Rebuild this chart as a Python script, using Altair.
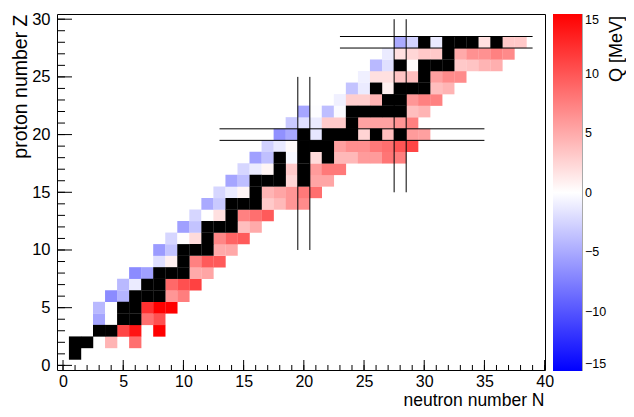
import altair as alt
import pandas as pd

FONT = "Liberation Sans"

# ---- Q values [MeV] of the coloured isotopes: neutron number N, proton number Z ----
q_N = [
    4, 6,                                   # Z=2
    5, 6, 8,                                # Z=3
    3, 4, 7, 8,                             # Z=4
    3, 4, 7, 8, 9,                          # Z=5
    4, 5, 9, 10,                            # Z=6
    5, 6, 9, 10, 11,                        # Z=7
    6, 7, 11, 12,                           # Z=8
    8, 9, 11, 12, 13,                       # Z=9
    8, 9, 13, 14,                           # Z=10
    9, 10, 11, 13, 14, 15,                  # Z=11
    10, 11, 15, 16,                         # Z=12
    11, 12, 13, 15, 16, 17,                 # Z=13
    12, 13, 17, 18, 19, 20,                 # Z=14
    13, 14, 15, 17, 18, 19, 20, 21,         # Z=15
    14, 15, 19, 21, 22,                     # Z=16
    15, 16, 17, 19, 21, 22, 23,             # Z=17
    16, 17, 19, 21, 23, 24, 25, 26, 27, 28, # Z=18
    17, 18, 19, 23, 24, 25, 26, 27, 28, 29, # Z=19
    18, 19, 21, 25, 27, 29, 30,             # Z=20
    19, 20, 21, 22, 23, 25, 26, 27, 28, 29, # Z=21
    20, 21, 22, 23, 29, 30,                 # Z=22
    23, 24, 25, 26, 29, 30, 31,             # Z=23
    24, 25, 27, 31, 32,                     # Z=24
    25, 26, 27, 28, 29, 31, 32, 33,         # Z=25
    26, 27, 29, 33, 34, 35, 36,             # Z=26
    27, 28, 29, 30, 31, 33, 34, 35, 36, 37, # Z=27
    28, 29, 31, 35, 37, 38,                 # Z=28
]
q_Z = [
    2, 2,
    3, 3, 3,
    4, 4, 4, 4,
    5, 5, 5, 5, 5,
    6, 6, 6, 6,
    7, 7, 7, 7, 7,
    8, 8, 8, 8,
    9, 9, 9, 9, 9,
    10, 10, 10, 10,
    11, 11, 11, 11, 11, 11,
    12, 12, 12, 12,
    13, 13, 13, 13, 13, 13,
    14, 14, 14, 14, 14, 14,
    15, 15, 15, 15, 15, 15, 15, 15,
    16, 16, 16, 16, 16,
    17, 17, 17, 17, 17, 17, 17,
    18, 18, 18, 18, 18, 18, 18, 18, 18, 18,
    19, 19, 19, 19, 19, 19, 19, 19, 19, 19,
    20, 20, 20, 20, 20, 20, 20,
    21, 21, 21, 21, 21, 21, 21, 21, 21, 21,
    22, 22, 22, 22, 22, 22,
    23, 23, 23, 23, 23, 23, 23,
    24, 24, 24, 24, 24,
    25, 25, 25, 25, 25, 25, 25, 25,
    26, 26, 26, 26, 26, 26, 26,
    27, 27, 27, 27, 27, 27, 27, 27, 27, 27,
    28, 28, 28, 28, 28, 28,
]
q_val = [
    4.4, 8.5,
    10.9, 13.8, 15.0,
    -5.3, 0.0, 8.5, 10.3,
    -4.1, 0.0, 12.1, 15.0, 15.0,
    -6.8, -4.4, 6.2, 7.6,
    -4.1, -1.2, 8.8, 10.3, 11.2,
    -6.8, -5.6, 5.0, 5.3,
    -1.9, 0.9, 7.4, 9.7, 9.7,
    -5.9, -3.5, 5.0, 5.1,
    -2.4, 0.1, 2.1, 7.1, 9.1, 9.7,
    -5.6, -3.5, 3.8, 5.0,
    -2.4, 0.0, 1.8, 7.4, 8.5, 9.7,
    -5.0, -3.2, 3.2, 4.1, 6.2, 6.8,
    -2.4, -1.2, 0.6, 4.4, 5.3, 6.2, 7.9, 8.5,
    -5.3, -3.8, 2.4, 5.3, 5.3,
    -2.4, -1.2, 0.6, 3.2, 5.9, 7.9, 7.9,
    -5.6, -3.7, -0.4, 2.1, 4.2, 4.2, 5.9, 5.9, 8.1, 7.6,
    -2.7, -1.3, 0.3, 5.6, 6.6, 6.6, 7.9, 8.5, 10.0, 10.9,
    -6.5, -5.1, -1.5, 2.5, 3.9, 5.9, 5.6,
    -3.2, -1.9, -1.2, 3.1, 3.1, 5.5, 5.5, 5.5, 6.3, 7.5,
    -5.3, -0.1, -3.8, -0.3, 3.8, 4.4,
    -0.9, 2.9, 2.9, 4.4, 6.2, 7.4, 7.4,
    -3.5, -1.2, 0.9, 3.8, 4.4,
    -0.9, 1.8, 1.8, 3.5, 3.8, 5.6, 6.8, 6.8,
    -4.1, -1.8, 0.3, 3.2, 3.5, 4.4, 4.7,
    -1.2, 1.8, 2.4, 3.2, 3.2, 5.0, 6.5, 6.5, 7.4, 6.9,
    -5.0, -2.6, -1.2, 1.8, 3.2, 3.2,
]

# ---- stable isotopes (drawn black) ----
stable_N = [1, 1, 2, 3, 4, 5, 6, 5, 6, 6, 7, 8, 7, 8, 8, 9, 10, 10, 10, 11, 12, 12,
            12, 13, 14, 14, 14, 15, 16, 16, 16, 17, 18, 20, 18, 20, 18, 20, 22,
            20, 21, 22, 20, 22, 23, 24, 26, 28, 24, 24, 25, 26, 27, 28, 27, 28,
            26, 28, 29, 30, 30, 28, 30, 31, 32, 32, 30, 32, 33, 34, 36]
stable_Z = [1, 2, 2, 3, 3, 4, 4, 5, 5, 6, 6, 6, 7, 7, 8, 8, 8, 9, 10, 10, 10, 11,
            12, 12, 12, 13, 14, 14, 14, 15, 16, 16, 16, 16, 17, 17, 18, 18, 18,
            19, 19, 19, 20, 20, 20, 20, 20, 20, 21, 22, 22, 22, 22, 22, 23, 23,
            24, 24, 24, 24, 25, 26, 26, 26, 26, 27, 28, 28, 28, 28, 28]

# ---- magic-number guide lines ----
vline_N = [19.5, 20.5, 27.5, 28.5]
vline_Z1 = [10, 10, 15, 15]
vline_Z2 = [25, 25, 30, 30]
hline_Z = [19.5, 20.5, 27.5, 28.5]
hline_N1 = [13, 13, 23, 23]
hline_N2 = [35, 35, 39, 39]

x_major = [0, 5, 10, 15, 20, 25, 30, 35, 40]
x_minor = list(range(0, 41))
y_major = [0, 5, 10, 15, 20, 25, 30]
y_minor = list(range(0, 31))
cbar_ticks = [-10, -5, 0, 5, 10]
cbar_labels = [-15, -10, -5, 0, 5, 10, 15]

W, H = 488, 356

cells = pd.DataFrame({"N": q_N, "Z": q_Z, "Q": q_val})
stable = pd.DataFrame({"N": stable_N, "Z": stable_Z})
vlines = pd.DataFrame({"N": vline_N, "Z1": vline_Z1, "Z2": vline_Z2})
hlines = pd.DataFrame({"Z": hline_Z, "N1": hline_N1, "N2": hline_N2})

xs = alt.Scale(domain=[-0.5, 40.03], nice=False, zero=False)
ys = alt.Scale(domain=[-0.4, 30.45], nice=False, zero=False)
cs = alt.Scale(domain=[-15, 0, 15], range=["#0000ff", "#ffffff", "#ff0000"], interpolate="rgb")

xaxis = alt.Axis(values=x_major, tickSize=0, domain=False, grid=False,
                 labelFont=FONT, labelFontSize=16, labelColor="black", labelPadding=3,
                 labelFlush=False, labelOverlap=False,
                 title="neutron number N", titleFont=FONT, titleFontSize=17.5,
                 titleFontWeight="normal", titleColor="black",
                 titleX=487, titleY=39, titleAlign="right", titleBaseline="bottom")
yaxis = alt.Axis(values=y_major, tickSize=0, domain=False, grid=False,
                 labelFont=FONT, labelFontSize=16.5, labelColor="black", labelPadding=7,
                 labelFlush=False, labelOverlap=False,
                 title="proton number Z", titleFont=FONT, titleFontSize=19.5,
                 titleFontWeight="normal", titleColor="black", titleAngle=270,
                 titleX=-37, titleY=0, titleAlign="right", titleBaseline="middle")

legend = alt.Legend(orient="none", legendX=496, legendY=0, direction="vertical",
                    type="gradient",
                    gradientLength=357, gradientThickness=29, values=cbar_labels,
                    labelFont=FONT, labelFontSize=12.5, labelColor="black",
                    labelOffset=3, labelBaseline="middle", labelOverlap=False,
                    gradientStrokeWidth=0, padding=0)

heat = alt.Chart(cells).transform_calculate(
    x0="datum.N - 0.51", x1="datum.N + 0.51", y0="datum.Z - 0.51", y1="datum.Z + 0.51"
).mark_rect().encode(
    x=alt.X("x0:Q", scale=xs, axis=xaxis),
    x2="x1:Q",
    y=alt.Y("y0:Q", scale=ys, axis=yaxis),
    y2="y1:Q",
    color=alt.Color("Q:Q", scale=cs, legend=legend, title=None),
)

black = alt.Chart(stable).transform_calculate(
    x0="datum.N - 0.51", x1="datum.N + 0.51", y0="datum.Z - 0.51", y1="datum.Z + 0.51"
).mark_rect(color="black").encode(
    x=alt.X("x0:Q", scale=xs), x2="x1:Q",
    y=alt.Y("y0:Q", scale=ys), y2="y1:Q",
)

vl = alt.Chart(vlines).mark_rule(color="black", strokeWidth=1).encode(
    x=alt.X("N:Q", scale=xs), y=alt.Y("Z1:Q", scale=ys), y2="Z2:Q")
hl = alt.Chart(hlines).mark_rule(color="black", strokeWidth=1).encode(
    y=alt.Y("Z:Q", scale=ys), x=alt.X("N1:Q", scale=xs), x2="N2:Q")

xt_min = alt.Chart(pd.DataFrame({"t": x_minor})).mark_rule(color="black").encode(
    x=alt.X("t:Q", scale=xs), y=alt.value(H), y2=alt.value(H - 5))
xt_maj = alt.Chart(pd.DataFrame({"t": x_major})).mark_rule(color="black").encode(
    x=alt.X("t:Q", scale=xs), y=alt.value(H), y2=alt.value(H - 10))
yt_min = alt.Chart(pd.DataFrame({"t": y_minor})).mark_rule(color="black").encode(
    y=alt.Y("t:Q", scale=ys), x=alt.value(0), x2=alt.value(8))
yt_maj = alt.Chart(pd.DataFrame({"t": y_major})).mark_rule(color="black").encode(
    y=alt.Y("t:Q", scale=ys), x=alt.value(0), x2=alt.value(15))

main = alt.layer(heat, black, vl, hl, xt_min, xt_maj, yt_min, yt_maj)

cbs = alt.Scale(domain=[-15, 15], range=[357, 0], nice=False, zero=False)
cb_ticks = alt.Chart(pd.DataFrame({"v": cbar_ticks})).mark_rule(color="black").encode(
    y=alt.Y("v:Q", scale=cbs, axis=None), x=alt.value(510), x2=alt.value(525))
cb_edge = alt.Chart(pd.DataFrame({"a": [-15], "b": [15]})).mark_rule(color="#555555").encode(
    y=alt.Y("a:Q", scale=cbs, axis=None), y2="b:Q", x=alt.value(525))
cb_title = alt.Chart(pd.DataFrame({"t": ["Q [MeV]"]})).mark_text(
    angle=270, align="right", baseline="middle", font=FONT, fontSize=18, color="black"
).encode(text="t:N", x=alt.value(560), y=alt.value(2))

cbar = alt.layer(cb_ticks, cb_edge, cb_title)

chart = alt.layer(main, cbar).resolve_scale(y="independent").properties(
    width=W, height=H,
    padding={"left": 49, "top": 6, "right": 81, "bottom": 39},
    autosize=alt.AutoSizeParams(type="none"),
    background="white",
).configure_view(stroke="black", strokeWidth=1)

chart.save("out.html", embed_options={"renderer": "svg", "actions": False})
